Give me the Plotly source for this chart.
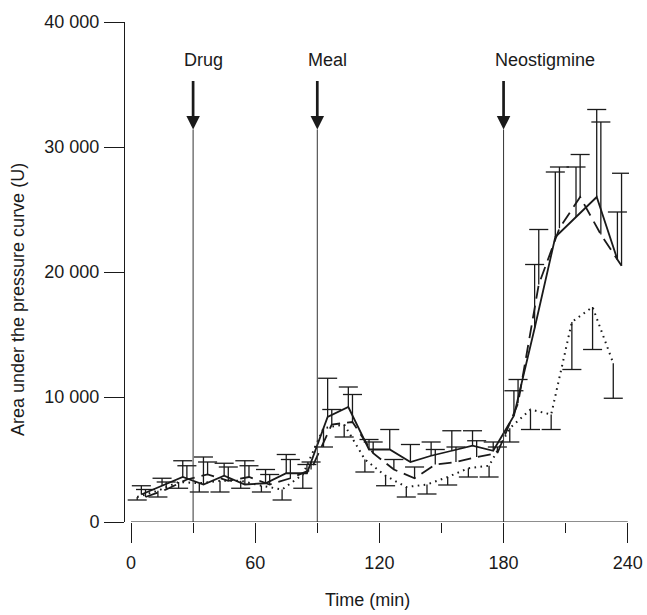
import plotly.graph_objects as go

# ---- data ----
time = [5, 15, 25, 35, 45, 55, 65, 75, 85, 95, 105, 115,
        125, 135, 145, 155, 165, 175, 185, 195, 205, 215, 225, 235]

solid = [2200, 2900, 3600, 3000, 3700, 3000, 3100, 3900, 3900, 8400, 9200, 5800,
         5800, 4800, 5300, 5700, 6100, 5700, 8500, 15500, 22800, 24400, 26000, 21000]
solid_upper = [2900, 3500, 4900, 5200, 4700, 4900, 4200, 5400, 4600, 11500, 10800, 6600,
               7400, 6200, 6400, 7300, 7300, 6400, 10500, 20600, 28000, 28400, 33000, 24800]

dashed = [2000, 2600, 3400, 3800, 3300, 3600, 3000, 3500, 4200, 7800, 8000, 5500,
          4200, 3500, 4600, 4800, 5200, 5500, 9500, 19000, 23500, 26000, 23000, 20500]
dashed_upper = [2600, 3200, 4500, 4800, 4400, 4500, 3800, 5000, 4800, 9000, 10200, 6400,
                5000, 4400, 5800, 6000, 6500, 6000, 11400, 23400, 28400, 29400, 32000, 27900]

dotted = [2000, 2500, 3200, 3100, 3300, 3300, 2900, 2600, 3800, 7500, 7800, 5000,
          3700, 2800, 3000, 3600, 4300, 4500, 7500, 9000, 8600, 16000, 17200, 12700]
dotted_lower = [1760, 2000, 2700, 2400, 2400, 2700, 2400, 1760, 2700, 6000, 6800, 4000,
                2900, 2000, 2240, 2960, 3600, 3600, 6400, 7400, 7400, 12200, 13800, 9900]

event_labels = ["Drug", "Meal", "Neostigmine"]
event_times = [30, 90, 180]

x_ticks = [0, 60, 120, 180, 240]
x_minor_ticks = [30, 90, 150, 210]
y_ticks = [0, 10000, 20000, 30000, 40000]
y_tick_labels = ["0", "10 000", "20 000", "30 000", "40 000"]

# ---- styling ----
FONT = "Liberation Sans, Arial, Helvetica, sans-serif"
FS = 18
INK = "#1a1a1a"
CAP_HALF = 4.6      # half width of error-bar caps, minutes
EVENT_TOP = 31400   # top of the event lines, data units


def shift(xs, dx):
    return [x + dx for x in xs]


def bar_segments(xs, ys, ends, half):
    X, Y = [], []
    for x, y, e in zip(xs, ys, ends):
        X += [x, x, None, x - half, x + half, None]
        Y += [y, e, None, e, e, None]
    return X, Y


fig = go.Figure()

series = [
    (shift(time, 0), solid, solid_upper, "solid", 1.8),
    (shift(time, 2), dashed, dashed_upper, "13px,7px", 1.8),
    (shift(time, -2), dotted, dotted_lower, "1.6px,4.4px", 2.0),
]

for xs, ys, ends, dash, w in series:
    bx, by = bar_segments(xs, ys, ends, CAP_HALF)
    fig.add_trace(go.Scatter(x=bx, y=by, mode="lines",
                             line=dict(color=INK, width=1.3),
                             hoverinfo="skip", showlegend=False))
    fig.add_trace(go.Scatter(x=xs, y=ys, mode="lines",
                             line=dict(color=INK, width=w, dash=dash),
                             showlegend=False))

shapes = [dict(type="line", xref="x", yref="y", x0=x_ticks[0], x1=x_ticks[-1], y0=0, y1=0,
               line=dict(color=INK, width=1))]
annotations = []
for lab, t in zip(event_labels, event_times):
    shapes.append(dict(type="line", xref="x", yref="y", x0=t, x1=t, y0=0, y1=EVENT_TOP,
                       line=dict(color="#333", width=1)))
    annotations.append(dict(x=t, y=EVENT_TOP, xref="x", yref="y", text="",
                            showarrow=True, ax=0, ay=-50, arrowhead=2, arrowsize=1.0,
                            arrowwidth=2.7, arrowcolor=INK))
    annotations.append(dict(x=t, y=0.924, xref="x", yref="paper", text=lab,
                            showarrow=False, xanchor="left", yanchor="middle", xshift=-11,
                            font=dict(family=FONT, size=FS, color=INK)))

annotations.append(dict(x=-0.2123, y=0.444, xref="paper", yref="paper",
                        text="Area under the pressure curve (U)", textangle=-90,
                        xanchor="center", yanchor="middle",
                        showarrow=False, font=dict(family=FONT, size=FS, color=INK)))
annotations.append(dict(x=0.482, y=-0.156, xref="paper", yref="paper",
                        text="Time (min)", showarrow=False,
                        xanchor="center", yanchor="middle",
                        font=dict(family=FONT, size=FS, color=INK)))

fig.update_layout(
    width=647, height=615,
    margin=dict(l=125, r=18, t=22, b=93, autoexpand=False),
    plot_bgcolor="white", paper_bgcolor="white",
    font=dict(family=FONT, size=FS, color=INK),
    shapes=shapes, annotations=annotations,
    xaxis=dict(range=[-2.9, 240.6], tickvals=x_ticks, ticks="outside", ticklen=20,
               tickwidth=1, tickcolor=INK, showline=False,
               showgrid=False, zeroline=False, ticklabelstandoff=4,
               ticklabeloverflow="allow",
               minor=dict(tickvals=x_minor_ticks, ticks="outside", ticklen=10,
                          tickcolor=INK, tickwidth=1, showgrid=False),
               tickfont=dict(family=FONT, size=FS, color=INK)),
    yaxis=dict(range=[0, 40000], tickvals=y_ticks, ticktext=y_tick_labels,
               ticks="outside", ticklen=20, tickwidth=1, tickcolor=INK,
               showline=True, linecolor=INK, linewidth=1, showgrid=False,
               zeroline=False, ticklabelstandoff=1,
               tickfont=dict(family=FONT, size=FS, color=INK)),
)

# remove the default 8px page margin so the figure fills the 647x615 window
fig.write_html("out.html",
               config=dict(displayModeBar=False),
               post_script="document.body.style.margin='0';document.body.style.overflow='hidden';")
